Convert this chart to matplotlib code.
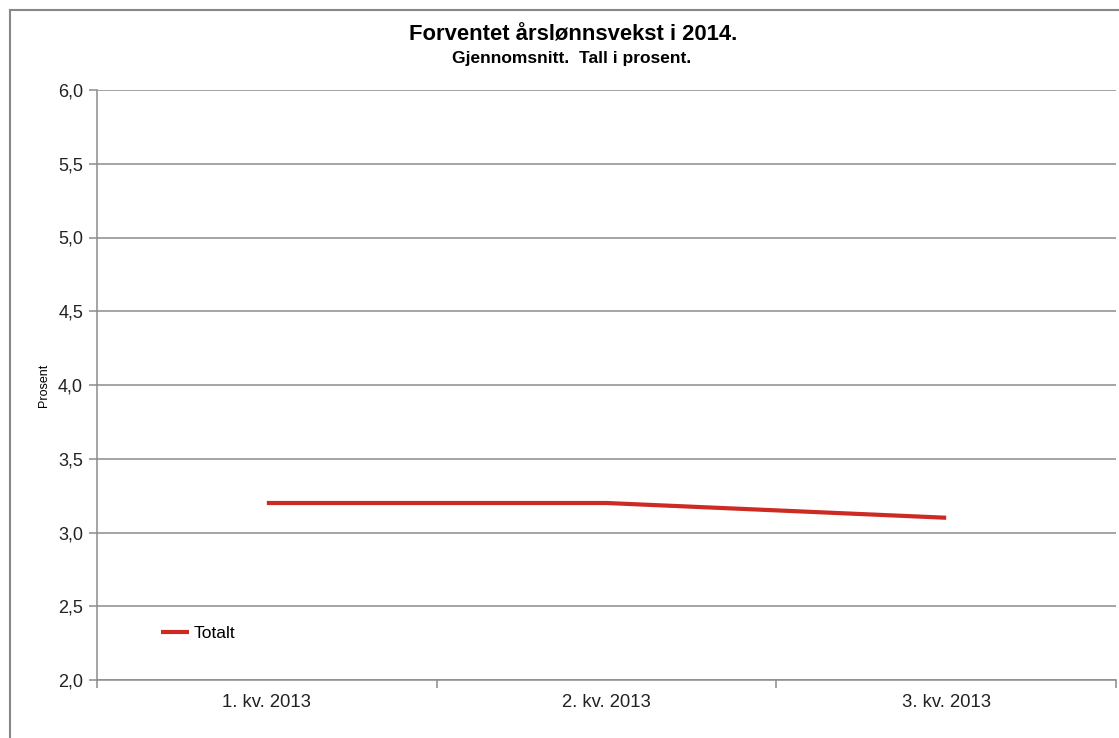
import matplotlib
matplotlib.use("Agg")
import matplotlib.pyplot as plt
from matplotlib.lines import Line2D
from matplotlib.ticker import FixedLocator, FuncFormatter

plt.rcParams["font.family"] = ["Liberation Sans", "DejaVu Sans"]

# data
quarters = ["1. kv. 2013", "2. kv. 2013", "3. kv. 2013"]
totalt = [3.2, 3.2, 3.1]
y_ticks = [2.0, 2.5, 3.0, 3.5, 4.0, 4.5, 5.0, 5.5, 6.0]

W, H = 1119, 738
GRID = "#8c8c8c"
RED = "#cc2a23"

fig = plt.figure(figsize=(W / 100, H / 100), dpi=100)
ax = fig.add_axes([97 / W, 1 - 680 / H, (1116 - 97) / W, (680 - 90) / H])

x = list(range(len(quarters)))
ax.plot(x, totalt, color=RED, linewidth=3, label="Totalt", solid_capstyle="butt")

ax.set_ylim(2.0, 6.0)
ax.set_xlim(-0.5, len(quarters) - 0.5)
ax.set_yticks(y_ticks)
ax.yaxis.set_major_formatter(FuncFormatter(lambda v, p: f"{v:.1f}".replace(".", ",")))
ax.grid(True, axis="y", color=GRID, linewidth=1.1)
ax.set_axisbelow(True)

# category boundaries as major ticks, labels on minor ticks
ax.xaxis.set_major_locator(FixedLocator([i - 0.5 for i in range(len(quarters) + 1)]))
ax.xaxis.set_major_formatter(FuncFormatter(lambda v, p: ""))
ax.xaxis.set_minor_locator(FixedLocator(x))
ax.set_xticklabels(quarters, minor=True)
ax.tick_params(axis="x", which="major", length=6, color=GRID, width=1.1)
ax.tick_params(axis="x", which="minor", length=0, pad=10, labelsize=13.3, labelcolor="#222222")
ax.tick_params(axis="y", length=6, color=GRID, width=1.1, pad=4, labelsize=13, labelcolor="#222222")

for side in ("top", "right"):
    ax.spines[side].set_visible(False)
for side in ("left", "bottom"):
    ax.spines[side].set_color(GRID)
    ax.spines[side].set_linewidth(1.1)

ax.set_ylabel("Prosent", fontsize=9, labelpad=6)

ax.legend(loc="lower left", bbox_to_anchor=(0.047, 0.04), frameon=False,
          fontsize=12.5, handlelength=1.65, handletextpad=0.25)

fig.text(573 / W, 1 - 35 / H, "Forventet årslønnsvekst i 2014.", ha="center", va="center",
         fontsize=15.8, fontweight="bold")
fig.text(572 / W, 1 - 58 / H, "Gjennomsnitt.  Tall i prosent.", ha="center", va="center",
         fontsize=12.5, fontweight="bold")

# outer chart border (only top and left visible in the crop)
fig.add_artist(Line2D([9.5 / W, 9.5 / W], [0, 1 - 10 / H], color="#888888", linewidth=1.5,
                      transform=fig.transFigure))
fig.add_artist(Line2D([9.5 / W, 1], [1 - 10 / H, 1 - 10 / H], color="#888888", linewidth=1.5,
                      transform=fig.transFigure))

fig.savefig("out.png", dpi=100)
